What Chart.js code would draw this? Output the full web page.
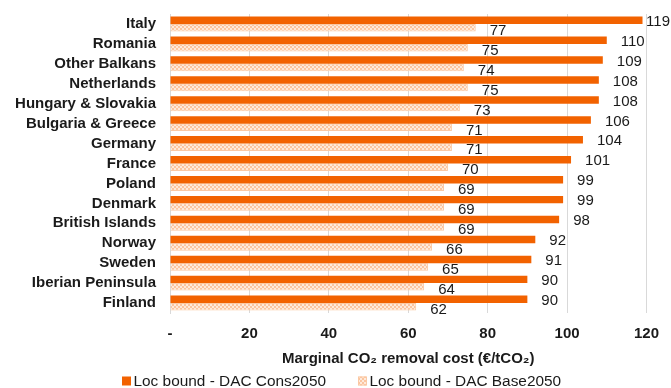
<!DOCTYPE html>
<html>
<head>
<meta charset="utf-8">
<script src="https://cdn.jsdelivr.net/npm/chart.js@4/dist/chart.umd.min.js"></script>
<style>
  html, body { margin: 0; padding: 0; background: #fff; }
  #wrap { width: 671px; height: 388px; position: relative; }
</style>
</head>
<body>
<div id="wrap"><canvas id="c" width="671" height="388"></canvas></div>
<script>
// Regions, ordered from highest to lowest cost
const regions = [
  'Italy', 'Romania', 'Other Balkans', 'Netherlands', 'Hungary & Slovakia',
  'Bulgaria & Greece', 'Germany', 'France', 'Poland', 'Denmark',
  'British Islands', 'Norway', 'Sweden', 'Iberian Peninsula', 'Finland'
];
// Marginal CO2 removal cost, €/tCO2
const consCost = [119, 110, 109, 108, 108, 106, 104, 101, 99, 99, 98, 92, 91, 90, 90];
const baseCost = [77, 75, 74, 75, 73, 71, 71, 70, 69, 69, 69, 66, 65, 64, 62];
const seriesNames = ['Loc bound - DAC Cons2050', 'Loc bound - DAC Base2050'];
const xTicks = [0, 20, 40, 60, 80, 100, 120];

const FONT = '"Liberation Sans", Arial, sans-serif';
const INK = '#1a1a1a';
const ORANGE = '#f26200';
const LIGHT = '#fbc9a4';

// small checkerboard fill for the Base2050 bars
function checkerPattern() {
  const p = document.createElement('canvas');
  p.width = 4; p.height = 4;
  const g = p.getContext('2d');
  g.fillStyle = '#feeadb';
  g.fillRect(0, 0, 4, 4);
  g.fillStyle = '#fbc5a0';
  g.fillRect(0, 0, 2, 2);
  g.fillRect(2, 2, 2, 2);
  return g.createPattern(p, 'repeat');
}

// value labels to the right of each bar, kept inside the canvas
const valueLabels = {
  id: 'valueLabels',
  afterDatasetsDraw(chart) {
    const ctx = chart.ctx;
    ctx.save();
    ctx.font = '15px ' + FONT;
    ctx.fillStyle = INK;
    ctx.textBaseline = 'middle';
    ctx.textAlign = 'left';
    chart.data.datasets.forEach((ds, di) => {
      const meta = chart.getDatasetMeta(di);
      meta.data.forEach((bar, i) => {
        const txt = String(ds.data[i]);
        const w = ctx.measureText(txt).width;
        let x = bar.x + 14;
        if (x + w > chart.width - 1) x = chart.width - 1 - w;
        ctx.fillText(txt, x, bar.y + (di === 0 ? 1.5 : 3));
      });
    });
    ctx.restore();
  }
};

// legend row under the axis title, using the datasets' own fills
const bottomLegend = {
  id: 'bottomLegend',
  afterDraw(chart) {
    const ctx = chart.ctx;
    const items = [{ x: 122 }, { x: 358 }];
    const y = 381;
    ctx.save();
    ctx.font = '15.4px ' + FONT;
    ctx.textBaseline = 'middle';
    ctx.textAlign = 'left';
    chart.data.datasets.forEach((ds, i) => {
      const bx = items[i].x;
      ctx.fillStyle = ds.backgroundColor;
      ctx.fillRect(bx, y - 4.5, 9, 9);
      if (ds.borderWidth) {
        ctx.strokeStyle = ds.borderColor;
        ctx.lineWidth = 1;
        ctx.strokeRect(bx + 0.5, y - 4, 8, 8);
      }
      ctx.fillStyle = INK;
      ctx.fillText(ds.label, bx + 11.5, y + 0.5);
    });
    ctx.restore();
  }
};

const ctx = document.getElementById('c').getContext('2d');
new Chart(ctx, {
  type: 'bar',
  data: {
    labels: regions,
    datasets: [
      {
        label: seriesNames[0],
        data: consCost,
        backgroundColor: ORANGE,
        borderColor: ORANGE,
        borderWidth: 0,
        categoryPercentage: 0.75,
        barPercentage: 1.0
      },
      {
        label: seriesNames[1],
        data: baseCost,
        backgroundColor: checkerPattern(),
        borderColor: LIGHT,
        borderWidth: 1,
        categoryPercentage: 0.75,
        barPercentage: 1.0
      }
    ]
  },
  options: {
    indexAxis: 'y',
    responsive: false,
    animation: false,
    layout: { padding: { top: 14, right: 22, left: 0, bottom: 20 } },
    scales: {
      x: {
        min: 0,
        max: 120,
        afterBuildTicks(scale) {
          scale.ticks = xTicks.map(v => ({ value: v }));
        },
        afterFit(scale) { scale.height = 55; },
        grid: { color: '#d9d9d9', drawTicks: false, lineWidth: 1 },
        border: { display: false },
        ticks: {
          padding: 12,
          color: INK,
          font: { family: FONT, size: 15, weight: 'bold' },
          callback: v => (v === 0 ? '-' : String(v))
        },
        title: {
          display: true,
          text: 'Marginal CO₂ removal cost (€/tCO₂)',
          color: INK,
          padding: { top: 4, bottom: 0 },
          font: { family: FONT, size: 15, weight: 'bold' }
        }
      },
      y: {
        afterFit(scale) {
          scale.width = 170;
          scale.paddingTop = 0;
          scale.paddingBottom = 0;
        },
        grid: { display: false, drawTicks: false },
        border: { display: true, color: '#d9d9d9' },
        ticks: {
          autoSkip: false,
          padding: 14,
          color: INK,
          font: { family: FONT, size: 15, weight: 'bold' }
        }
      }
    },
    plugins: {
      legend: { display: false },
      tooltip: { enabled: false }
    }
  },
  plugins: [valueLabels, bottomLegend]
});
</script>
</body>
</html>
